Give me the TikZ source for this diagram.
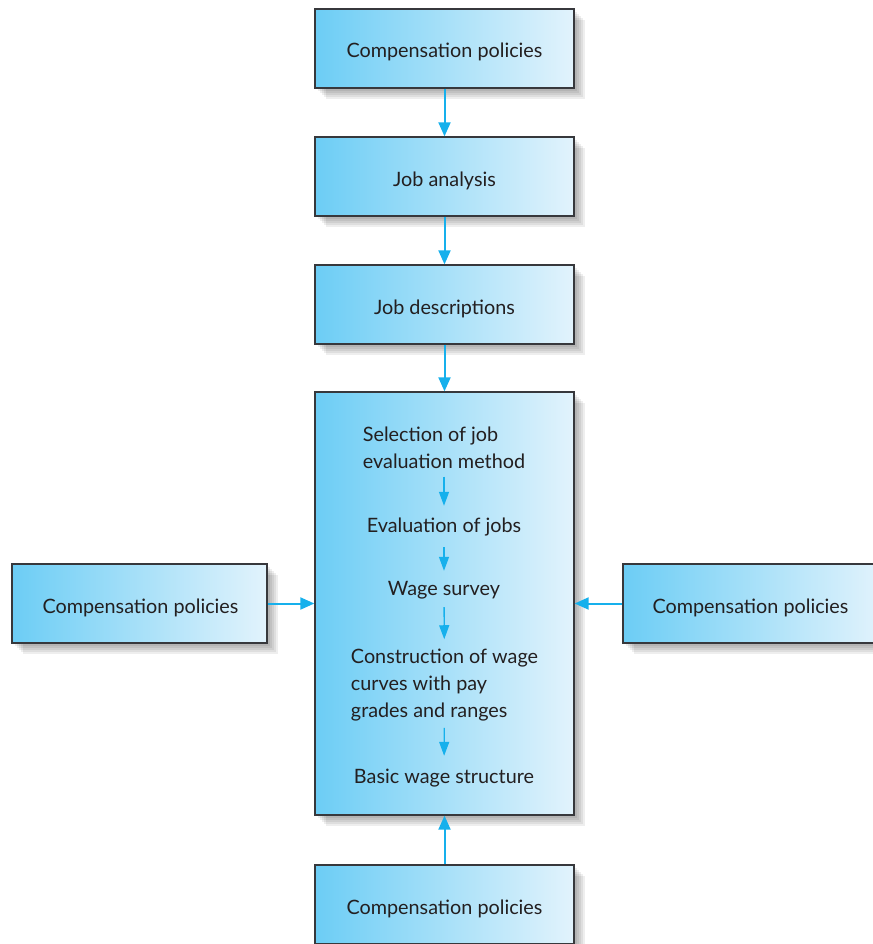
\documentclass[tikz,border=0pt]{standalone}
\usepackage{fontspec}
\setmainfont{Lato}
\usetikzlibrary{arrows.meta,shadows}

\definecolor{boxleft}{RGB}{108,205,245}
\definecolor{boxright}{RGB}{226,243,252}
\definecolor{edge}{RGB}{55,56,60}
\definecolor{flow}{RGB}{22,176,236}
\definecolor{ink}{RGB}{35,31,32}

\tikzset{
  x=1pt, y=-1pt,
  softshadow/.style={general shadow={fill=black, opacity=0.065,
      shadow xshift=#1, shadow yshift=-#1}},
  stagebox/.style={draw=edge, line width=1.3pt,
    left color=boxleft, right color=boxright,
    minimum width=259pt, minimum height=79pt, inner sep=0pt,
    text height=19pt, text depth=0pt,
    text=ink, font=\fontsize{19.8}{27}\selectfont,
    softshadow=3pt, softshadow=5pt, softshadow=7pt, softshadow=9pt, softshadow=11pt},
  steptext/.style={text=ink, align=left, inner sep=2pt,
    font=\fontsize{19.8}{27}\selectfont},
  oneline/.style={steptext, text height=15pt, text depth=4pt},
  flowarrow/.style={draw=flow, line width=2pt,
    -{Triangle[length=14pt,width=12pt]}},
  innerarrow/.style={draw=flow, line width=1.3pt,
    -{Triangle[length=14pt,width=10pt]}},
}

\begin{document}
\begin{tikzpicture}
  \useasboundingbox (0,0) rectangle (872,944);

  % chain of stages down the middle
  \node[stagebox] (policyTop) at (444.5,48.5) {Compensation policies};
  \node[stagebox] (analysis) at (444.5,176.5) {Job analysis};
  \node[stagebox] (descriptions) at (444.5,304.5) {Job descriptions};
  \node[stagebox, minimum height=423pt] (core) at (444.5,603.5) {};

  % inputs from both sides and from below
  \node[stagebox, minimum width=255pt] (policyLeft) at (139.5,603.5) {\hspace*{1pt}Compensation policies\hspace*{-1pt}};
  \node[stagebox] (policyRight) at (752.5,603.5) {\hspace*{-2pt}Compensation policies\hspace*{2pt}};
  \node[stagebox] (policyBottom) at (444.5,904.5) {Compensation policies};

  % steps inside the wage structure box
  \node[steptext] (selection) at (444,447.5) {Selection of job\\evaluation method};
  \node[oneline] (evaluation) at (444,526.5) {Evaluation of jobs};
  \node[oneline] (survey) at (444,589.5) {Wage survey};
  \node[steptext] (curves) at (444.5,685.5) {Construction of wage\\curves with pay\\grades and ranges};
  \node[oneline] (structure) at (444,777.5) {Basic wage structure};

  % connectors between stages
  \draw[flowarrow] (policyTop) -- (analysis);
  \draw[flowarrow] (analysis) -- (descriptions);
  \draw[flowarrow] (descriptions) -- (core);
  \draw[flowarrow] (policyLeft) -- (core);
  \draw[flowarrow] (policyRight.west) -- (core.east);
  \draw[flowarrow] (policyBottom) -- (core);

  \draw[innerarrow, shorten <=6pt, shorten >=9pt] (selection) -- (evaluation);
  \draw[innerarrow, shorten <=9pt, shorten >=7pt] (evaluation) -- (survey);
  \draw[innerarrow, shorten <=6pt, shorten >=8pt] (survey) -- (curves);
  \draw[innerarrow, shorten <=4pt, shorten >=10pt] (curves) -- (structure);
\end{tikzpicture}
\end{document}
